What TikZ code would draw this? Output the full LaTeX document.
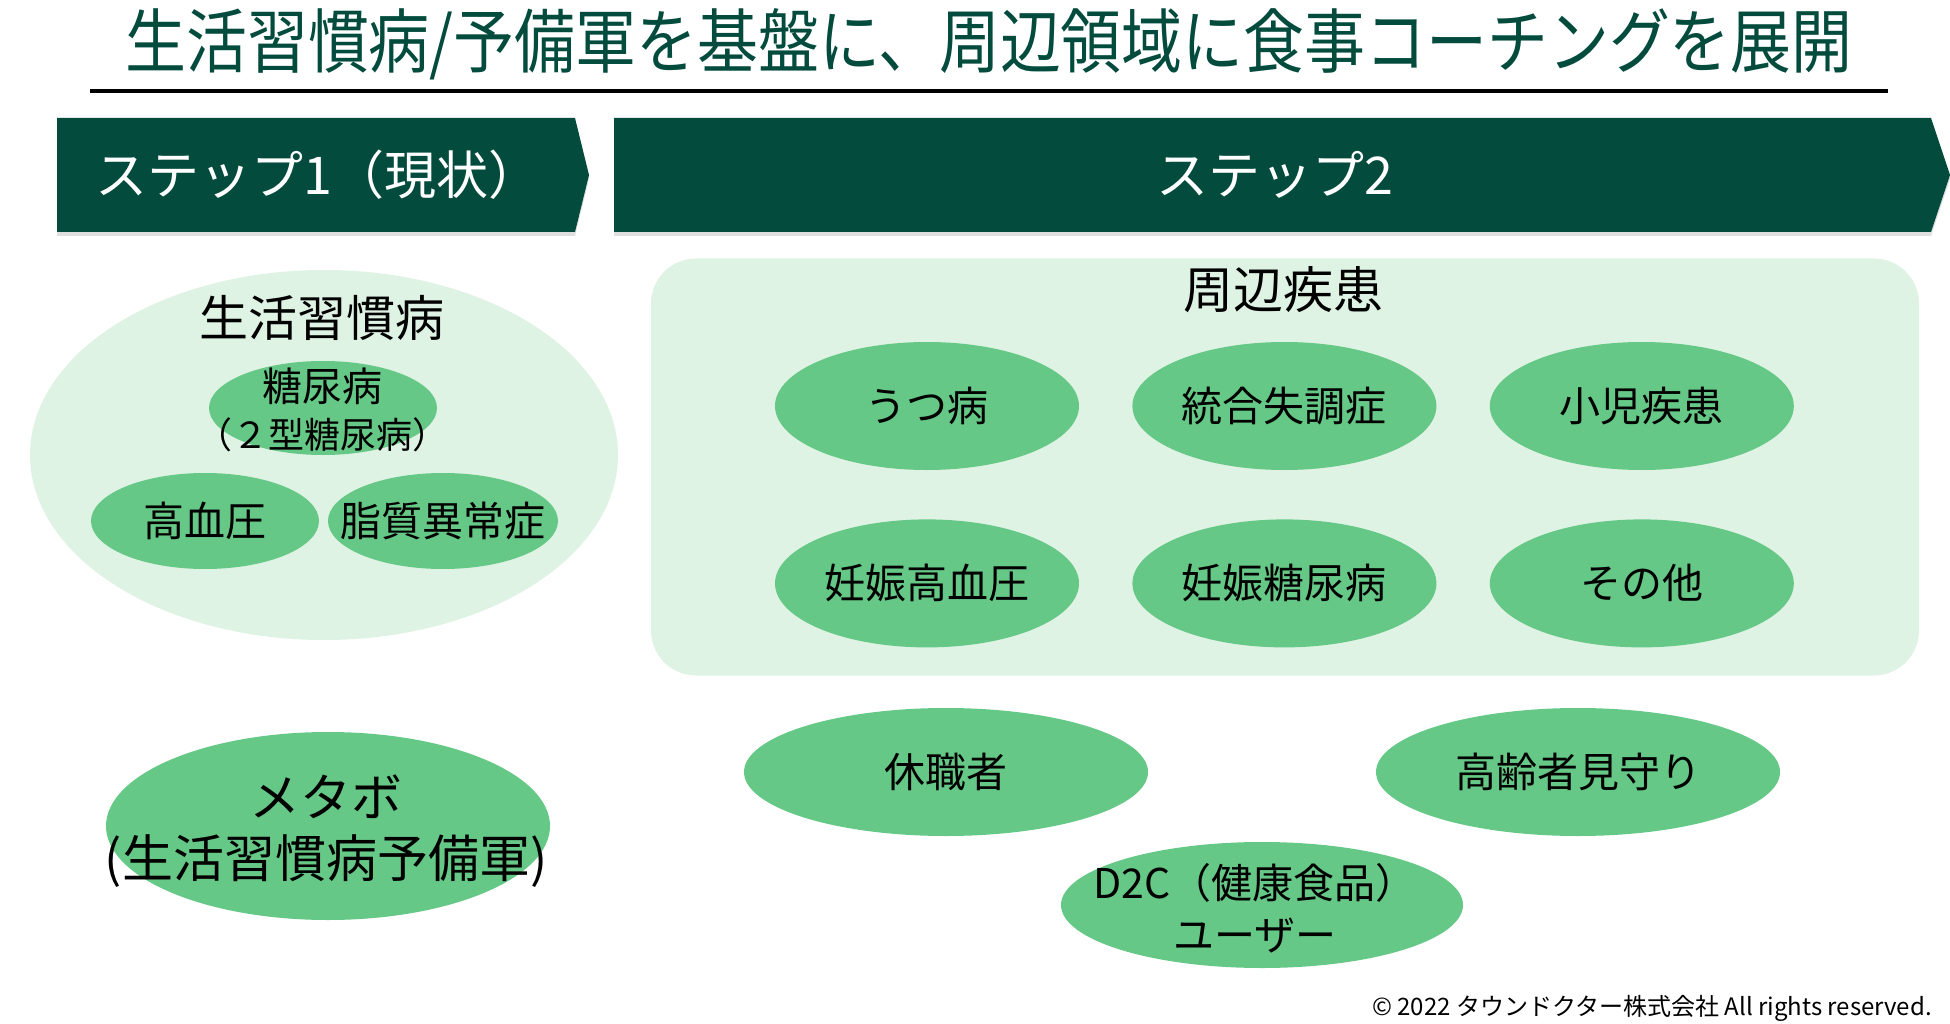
\documentclass[tikz,border=0pt]{standalone}
\usepackage{fontspec}
\setmainfont{Noto Sans CJK JP}
\newfontfamily\titlefont[FakeStretch=0.87]{Noto Sans CJK JP}
\usetikzlibrary{shapes.geometric, positioning}
\definecolor{deepgreen}{HTML}{034B3D}
\definecolor{palegreen}{HTML}{DFF3E4}
\definecolor{leafgreen}{HTML}{66C886}
\newcommand{\setsize}[2]{\fontsize{#1pt}{#2pt}\selectfont}
\tikzset{
	blob/.style={ellipse, fill=leafgreen, inner sep=0pt}, % green bubble for each target group
	groupbubble/.style={ellipse, fill=palegreen, inner sep=0pt}, % pale bubble that holds the step 1 diseases
	panel/.style={rectangle, rounded corners=45pt, fill=palegreen, inner sep=0pt}, % pale box for the step 2 diseases
	txt/.style={font={\setsize{41}{47}}, align=center, inner sep=0pt}, % black text on the bubbles
	bannertxt/.style={font={\setsize{52}{58}}, text=white, inner sep=0pt}, % white text on the step banners
	node distance=53pt, % gap between the bubbles of the step 2 box
}

\begin{document}
\begin{tikzpicture}[x=1pt, y=-1pt]
	\useasboundingbox (0,0) rectangle (1950,1024);
	% title and rule
	\node[font={\titlefont\setsize{70}{80}}, text=deepgreen, inner sep=0pt] (ttl) at (989,44) {生活習慣病/予備軍を基盤に、周辺領域に食事コーチングを展開};
	\coordinate (ruleL) at (90,91);
	\coordinate (ruleR) at (1888,91);
	\draw[line width=4pt] (ruleL) -- (ruleR);
	% step banners
	\fill[black!25, opacity=0.5] (57,122) -- (575,122) -- (589,179) -- (575,236) -- (57,236) -- cycle;
	\fill[black!25, opacity=0.5] (614,122) -- (1931,122) -- (1950,179) -- (1931,236) -- (614,236) -- cycle;
	\fill[deepgreen] (57,118) -- (575,118) -- (589,175) -- (575,232) -- (57,232) -- cycle;
	\fill[deepgreen] (614,118) -- (1931,118) -- (1950,175) -- (1931,232) -- (614,232) -- cycle;
	\node[bannertxt] (step1) at (318,175) {ステップ1（現状）};
	\node[bannertxt] (step2) at (1275,175) {ステップ2};
	% step 1
	\node[groupbubble, minimum width=588pt, minimum height=370pt] (life) at (324,455) {};
	\node[txt, font={\setsize{49}{56}}] (lifet) at (322,318) {生活習慣病};
	\node[blob, minimum width=228pt, minimum height=94pt] (dm) at (323,408) {};
	\node[txt, font={\setsize{40}{47}}] (dmt) at (322,410) {糖尿病\\{\setsize{36}{47}（２型糖尿病）}};
	\node[blob, minimum width=228pt, minimum height=96pt] (bp) at (205,521) {};
	\node[txt] (bpt) at (bp) {高血圧};
	\node[blob, minimum width=230pt, minimum height=96pt] (lipid) at (443,521) {};
	\node[txt] (lipidt) at (lipid) {脂質異常症};
	\node[blob, minimum width=444pt, minimum height=188pt] (meta) at (328,826) {};
	\node[txt, font={\setsize{51}{61}}] (metat) at (326,831) {メタボ\\(生活習慣病予備軍)};
	% step 2
	\node[panel, minimum width=1268pt, minimum height=417pt] (side) at (1285,467) {};
	\node[txt, font={\setsize{50}{58}}] (sidet) at (1283,290) {周辺疾患};
	\begin{scope}[every node/.append style={minimum width=304pt, minimum height=128pt}]
		\node[blob] (utsu) at (927,406) {};
		\node[blob, right=of utsu] (schizo) {};
		\node[blob, right=of schizo] (child) {};
		\node[blob, below=49pt of utsu] (pih) {};
		\node[blob, right=of pih] (gdm) {};
		\node[blob, right=of gdm] (other) {};
	\end{scope}
	\node[txt] (utsut) at (utsu) {うつ病};
	\node[txt] (schizot) at (schizo) {統合失調症};
	\node[txt] (childt) at (child) {小児疾患};
	\node[txt] (piht) at (pih) {妊娠高血圧};
	\node[txt] (gdmt) at (gdm) {妊娠糖尿病};
	\node[txt] (othert) at (other) {その他};
	\node[blob, minimum width=404pt, minimum height=128pt] (leave) at (946,772) {};
	\node[txt] (leavet) at (leave) {休職者};
	\node[blob, minimum width=404pt, minimum height=128pt] (elder) at (1578,772) {};
	\node[txt] (eldert) at (elder) {高齢者見守り};
	\node[blob, minimum width=402pt, minimum height=126pt] (d2c) at (1262,905) {};
	\node[txt, font={\setsize{41}{52}}] (d2ct) at (1255,908) {D2C（健康食品）\\ユーザー};
	% footer
	\node[font={\setsize{24}{28}}, anchor=east, inner sep=0pt] (copy) at (1932,1008) {© 2022 タウンドクター株式会社 All rights reserved.};
\end{tikzpicture}
\end{document}
